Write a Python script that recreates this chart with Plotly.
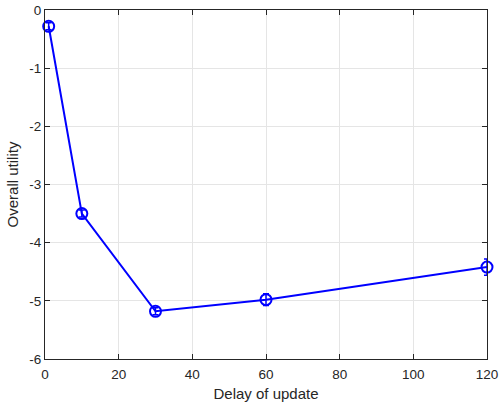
import plotly.graph_objects as go

delay = [1, 10, 30, 60, 120]
utility = [-0.28, -3.50, -5.18, -4.98, -4.42]
err = [0.06, 0.06, 0.06, 0.10, 0.14]

x_ticks = [0, 20, 40, 60, 80, 100, 120]
y_ticks = [0, -1, -2, -3, -4, -5, -6]

fig = go.Figure()
fig.add_trace(go.Scatter(
    x=delay, y=utility,
    mode="lines+markers",
    line=dict(color="#0000ff", width=2),
    marker=dict(symbol="circle-open", size=11, color="#0000ff", line=dict(width=2, color="#0000ff")),
    error_y=dict(type="data", array=err, visible=True, color="#0000ff", thickness=1.5, width=3),
    cliponaxis=False,
    showlegend=False,
))

axis_common = dict(
    showline=True, linecolor="#262626", linewidth=1, mirror="ticks",
    ticks="inside", ticklen=5, tickcolor="#262626",
    showgrid=True, gridcolor="#e5e5e5", gridwidth=1,
    zeroline=False, automargin=False,
    tickfont=dict(family="Liberation Sans, Arial, sans-serif", size=13.5, color="#262626"),
    title_font=dict(family="Liberation Sans, Arial, sans-serif", size=15, color="#262626"),
)

fig.update_xaxes(range=[0, 120], tickvals=x_ticks, ticktext=[str(v) for v in x_ticks],
                 title_text="Delay of update", title_standoff=8, ticklabelstandoff=3, **axis_common)
fig.update_yaxes(range=[-6, 0], tickvals=y_ticks, ticktext=[str(v) for v in y_ticks],
                 title_text="Overall utility", title_standoff=7, **axis_common)

fig.update_layout(
    width=500, height=402,
    margin=dict(l=45, r=13, t=10, b=43),
    paper_bgcolor="white", plot_bgcolor="white",
)

fig.write_html("out.html")
